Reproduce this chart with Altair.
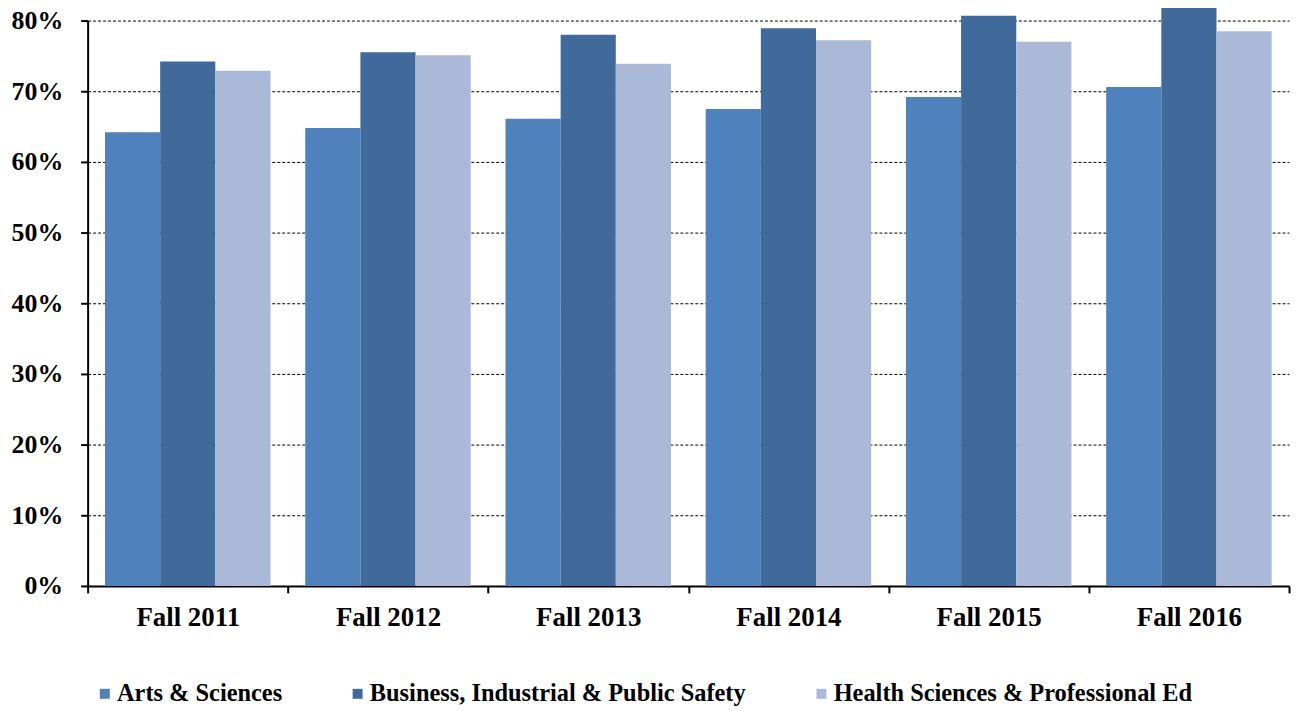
import altair as alt
import pandas as pd

categories = ["Fall 2011", "Fall 2012", "Fall 2013", "Fall 2014", "Fall 2015", "Fall 2016"]
series = ["Arts & Sciences", "Business, Industrial & Public Safety", "Health Sciences & Professional Ed"]
arts = [0.642, 0.648, 0.661, 0.675, 0.692, 0.706]
business = [0.742, 0.755, 0.780, 0.789, 0.807, 0.818]
health = [0.729, 0.751, 0.739, 0.772, 0.770, 0.785]
colors = ["#4F81BD", "#3F6A9B", "#AAB9D7"]

rows = []
for vals, s in zip([arts, business, health], series):
    for c, v in zip(categories, vals):
        rows.append({"cat": c, "series": s, "value": v})
df = pd.DataFrame(rows)

font = "Liberation Serif, Times New Roman, serif"

chart = alt.Chart(df).mark_bar().encode(
    x=alt.X("cat:N", sort=categories, title=None,
            scale=alt.Scale(paddingInner=0, paddingOuter=0),
            axis=alt.Axis(labelAngle=0, tickBand="extent", domainColor="black",
                          domainWidth=2, tickColor="black", tickWidth=2, tickSize=7,
                          labelFont=font, labelFontSize=27, labelFontWeight="bold",
                          labelColor="black", labelPadding=12)),
    xOffset=alt.XOffset("series:N", sort=series,
                        scale=alt.Scale(paddingInner=0, paddingOuter=0.315)),
    y=alt.Y("value:Q", title=None,
            scale=alt.Scale(domain=[0, 0.8], nice=False),
            axis=alt.Axis(format=".0%", values=[0, 0.1, 0.2, 0.3, 0.4, 0.5, 0.6, 0.7, 0.8],
                          grid=True, gridColor="black", gridDash=[3, 2], gridWidth=1,
                          domainColor="black", domainWidth=2, tickColor="black",
                          tickWidth=2, tickSize=7,
                          labelFont=font, labelFontSize=26, labelFontWeight="bold",
                          labelColor="black", labelPadding=18)),
    color=alt.Color("series:N", sort=series,
                    scale=alt.Scale(domain=series, range=colors),
                    legend=alt.Legend(title=None, orient="none", legendX=5, legendY=664,
                                      direction="horizontal", columns=3, columnPadding=63,
                                      symbolType="square", symbolSize=100,
                                      symbolStrokeWidth=0, labelOffset=0,
                                      labelFont=font, labelFontSize=24.5,
                                      labelFontWeight="bold", labelColor="black",
                                      labelLimit=600)),
).properties(
    width=1207, height=568,
    autosize=alt.AutoSizeParams(type="none"),
    padding={"left": 80, "top": 11, "right": 4, "bottom": 120},
).configure_view(stroke=None)

chart.save("out.html", embed_options={"renderer": "svg", "actions": False})
